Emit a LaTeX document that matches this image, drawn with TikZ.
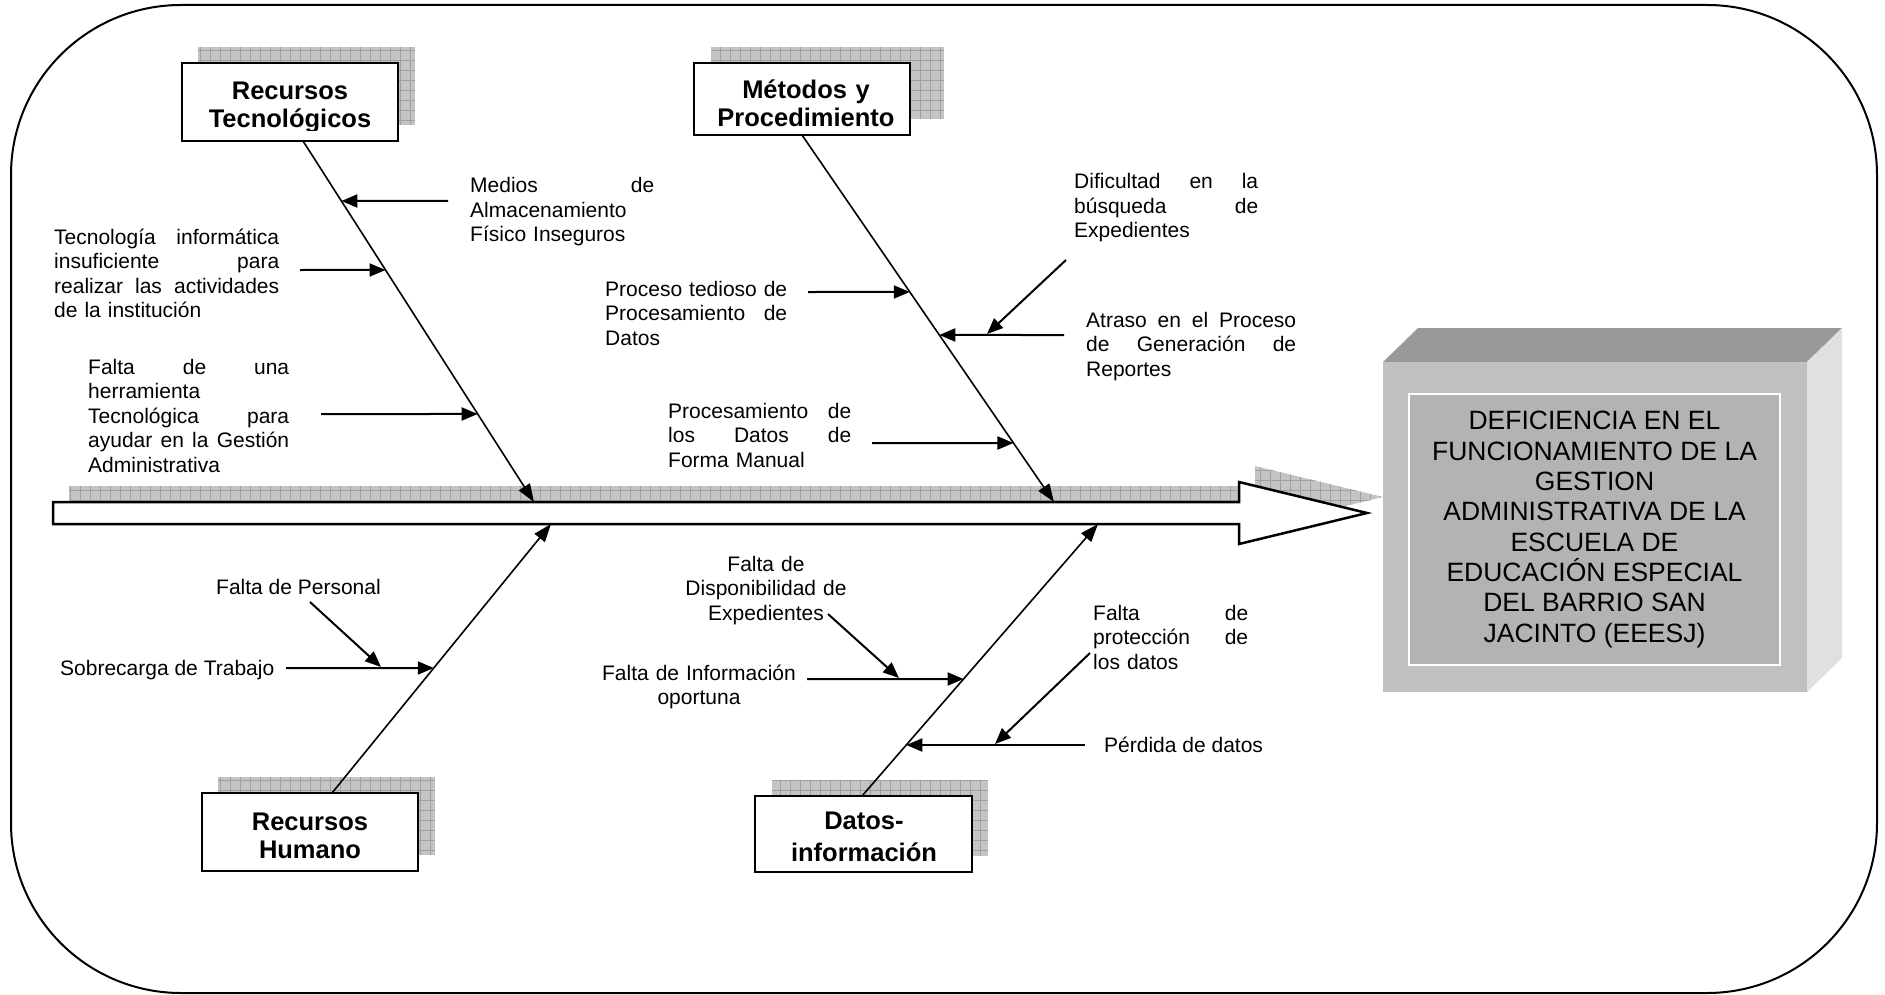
\documentclass[tikz,border=0pt]{standalone}
\usepackage{fontspec}
\setmainfont{Liberation Sans}
\usetikzlibrary{arrows.meta,calc}
\definecolor{shfill}{HTML}{C4C4C4}
\definecolor{shgrid}{HTML}{A0A0A0}
\definecolor{topface}{HTML}{999999}
\definecolor{frontface}{HTML}{C0C0C0}
\definecolor{sideface}{HTML}{E0E0E0}
\definecolor{innerface}{HTML}{B3B3B3}
\newcommand{\gshadow}[2]{\fill[shfill] #1 rectangle #2; \draw[shgrid, line width=0.6pt, step=10pt] #1 grid #2;}
\begin{document}
\begin{tikzpicture}[x=1pt,y=-1pt,
  catbox/.style={draw=black, line width=2.5pt, fill=white, rectangle, inner sep=0pt, outer sep=0pt},
  cattext/.style={font=\fontsize{25.5}{28}\selectfont\bfseries, align=center, inner sep=0pt, anchor=base},
  cause/.style={font=\fontsize{21}{24.5}\selectfont, align=left, inner sep=0pt, anchor=base west},
  causec/.style={font=\fontsize{21}{24.5}\selectfont, align=center, inner sep=0pt, anchor=base},
  bone/.style={line width=1.6pt, -{Triangle[length=18pt,width=13pt]}},
  causearrow/.style={line width=2pt, -{Triangle[length=16pt,width=13pt]}},
  efftext/.style={font=\fontsize{26.5}{30.3}\selectfont, align=center}
]
\useasboundingbox (0,0) rectangle (1885,995);

% outer frame
\draw[line width=2pt, rounded corners=170pt] (11,5) rectangle (1877,993);

% ---------- spine ----------
\begin{scope}
  \clip (69,486) -- (1255,486) -- (1255,466) -- (1383,497) -- (1255,528) -- (1255,508) -- (69,508) -- cycle;
  \gshadow{(60,460)}{(1390,530)}
\end{scope}
\draw[line width=2.5pt, fill=white, line join=miter]
  (53,502) -- (1239,502) -- (1239,482) -- (1367,513) -- (1239,544) -- (1239,524) -- (53,524) -- cycle;
\coordinate (spTopA) at (534,502);
\coordinate (spTopB) at (1054,502);
\coordinate (spBotA) at (551,524);
\coordinate (spBotB) at (1098,524);

% ---------- category boxes ----------
\gshadow{(198,47)}{(415,125)}
\node[catbox, minimum width=216pt, minimum height=78pt] (rt) at (290,102) {};
\begin{scope}
  \clip (185,66) rectangle (395,131);
  \node[cattext, text width=216pt] (rtt) at (290,100) {Recursos\\Tecnológicos};
\end{scope}

\gshadow{(711,47)}{(944,119)}
\node[catbox, minimum width=216pt, minimum height=72pt] (mp) at (802,99) {};
\begin{scope}
  \clip (697,66) rectangle (907,131);
  \node[cattext, text width=216pt] (mpt) at (806,99) {Métodos y\\Procedimiento};
\end{scope}

\gshadow{(218,777)}{(435,855)}
\node[catbox, minimum width=216pt, minimum height=78pt] (rh) at (310,832) {};
\node[cattext, text width=216pt] (rht) at (310,830) {Recursos\\Humano};

\gshadow{(772,780)}{(988,856)}
\node[catbox, minimum width=217pt, minimum height=76pt] (di) at (863.5,834) {};
\node[cattext, text width=217pt, font=\fontsize{25.5}{32}\selectfont\bfseries] (dit) at (864,829) {Datos-\\información};

% ---------- bones ----------
\coordinate (bt1) at (303,141);
\coordinate (bm1) at (802,135);
\coordinate (bh1) at (332,793);
\coordinate (bd1) at (862,796);
\draw[bone] (bt1) -- (spTopA);
\draw[bone] (bm1) -- (spTopB);
\draw[bone] (bh1) -- (spBotA);
\draw[bone] (bd1) -- (spBotB);

% ---------- causes: Recursos Tecnologicos ----------
\node[cause, text width=184pt] (c1) at (470,193) {Medios\hfill de\\Almacenamiento\\Físico Inseguros};
\coordinate (a1s) at (448,201);
\coordinate (a1e) at ($(bt1)!{(201-141)/(502-141)}!(spTopA)$);
\draw[causearrow] (a1s) -- (a1e);

\node[cause, text width=225pt] (c2) at (54,244) {Tecnología\hfill informática\\insuficiente\hfill para\\realizar\hfill las\hfill actividades\\de la institución};
\coordinate (a2s) at (300,270);
\coordinate (a2e) at ($(bt1)!{(270-141)/(502-141)}!(spTopA)$);
\draw[causearrow] (a2s) -- (a2e);

\node[cause, text width=201pt] (c3) at (88,374) {Falta\hfill de\hfill una\\herramienta\\Tecnológica\hfill para\\ayudar\hfill en\hfill la\hfill Gestión\\Administrativa};
\coordinate (a3s) at (321,414);
\coordinate (a3e) at ($(bt1)!{(414-141)/(502-141)}!(spTopA)$);
\draw[causearrow] (a3s) -- (a3e);

% ---------- causes: Metodos ----------
\node[cause, text width=182pt] (c4) at (605,296) {Proceso\hfill tedioso\hfill de\\Procesamiento\hfill de\\Datos};
\coordinate (a4s) at (808,292);
\coordinate (a4e) at ($(bm1)!{(292-135)/(502-135)}!(spTopB)$);
\draw[causearrow] (a4s) -- (a4e);

\node[cause, text width=184pt] (c5) at (1074,189) {Dificultad\hfill en\hfill la\\búsqueda\hfill de\\Expedientes};
\node[cause, text width=210pt] (c6) at (1086,327) {Atraso\hfill en\hfill el\hfill Proceso\\de\hfill Generación\hfill de\\Reportes};
\coordinate (a6s) at (1064,335);
\coordinate (a6e) at ($(bm1)!{(335-135)/(502-135)}!(spTopB)$);
\draw[causearrow] (a6s) -- (a6e);
\coordinate (a5s) at (1066,260);
\coordinate (a5e) at (987,334);
\draw[causearrow] (a5s) -- (a5e);

\node[cause, text width=183pt] (c7) at (668,418) {Procesamiento\hfill de\\los\hfill Datos\hfill de\\Forma Manual};
\coordinate (a7s) at (872,443);
\coordinate (a7e) at ($(bm1)!{(443-135)/(502-135)}!(spTopB)$);
\draw[causearrow] (a7s) -- (a7e);

% ---------- causes: Recursos Humano ----------
\node[cause] (c8) at (216,594) {Falta de Personal};
\node[cause] (c9) at (60,675) {Sobrecarga de Trabajo};
\coordinate (a9s) at (286,668);
\coordinate (a9e) at ($(bh1)!{(793-668)/(793-524)}!(spBotA)$);
\draw[causearrow] (a9s) -- (a9e);
\coordinate (a8s) at (310,602);
\coordinate (a8e) at (381,667);
\draw[causearrow] (a8s) -- (a8e);

% ---------- causes: Datos-informacion ----------
\node[causec, text width=175pt] (c10) at (766,571) {Falta de\\Disponibilidad de\\Expedientes};
\node[causec, text width=205pt] (c11) at (699,680) {Falta de Información\\oportuna};
\coordinate (a11s) at (807,679);
\coordinate (a11e) at ($(bd1)!{(796-679)/(796-524)}!(spBotB)$);
\draw[causearrow] (a11s) -- (a11e);
\coordinate (a10s) at (828,614);
\coordinate (a10e) at (899,678);
\draw[causearrow] (a10s) -- (a10e);

\node[cause, text width=155pt] (c12) at (1093,620) {Falta\hfill de\\protección\hfill de\\los datos};
\node[cause] (c13) at (1104,752) {Pérdida de datos};
\coordinate (a13s) at (1085,745);
\coordinate (a13e) at ($(bd1)!{(796-745)/(796-524)}!(spBotB)$);
\draw[causearrow] (a13s) -- (a13e);
\coordinate (a12s) at (1090,653);
\coordinate (a12e) at (995,744);
\draw[causearrow] (a12s) -- (a12e);

% ---------- effect box ----------
\fill[topface] (1383,362) -- (1418,328) -- (1842,328) -- (1807,362) -- cycle;
\fill[sideface] (1807,362) -- (1842,328) -- (1842,658) -- (1807,692) -- cycle;
\fill[frontface] (1383,362) rectangle (1807,692);
\node[draw=white, line width=1.5pt, fill=innerface, minimum width=371pt, minimum height=271pt, inner sep=0pt, efftext] (eff) at (1594.5,529.5)
  {DEFICIENCIA EN EL\\FUNCIONAMIENTO DE LA\\GESTION\\ADMINISTRATIVA DE LA\\ESCUELA DE\\EDUCACIÓN ESPECIAL\\DEL BARRIO SAN\\JACINTO (EEESJ)};

\end{tikzpicture}
\end{document}
